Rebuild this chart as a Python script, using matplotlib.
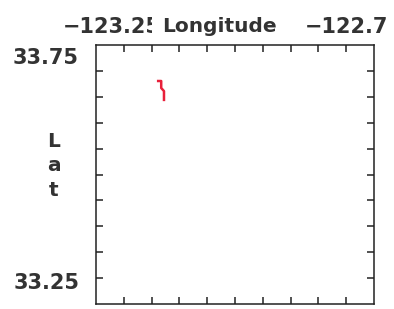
import numpy as np
import matplotlib
matplotlib.use("Agg")
import matplotlib.pyplot as plt
from matplotlib.patches import Rectangle

# track (longitude, latitude)
lon = [-123.127, -123.121, -123.121, -123.1155, -123.1155]
lat = [33.6805, 33.6805, 33.667, 33.661, 33.644]

x_min, x_max = -123.25, -122.7
y_min, y_max = 33.25, 33.75
x_labels = ["\u2212123.25", "\u2212122.7"]
y_labels = ["33.75", "33.25"]

plt.rcParams['font.family'] = ['DejaVu Sans']

fig = plt.figure(figsize=(3.94, 3.09), dpi=100)
ax = fig.add_axes([96 / 394, 5 / 309, 278 / 394, 259 / 309])

ax.plot(lon, lat, color='#e8203a', lw=1.8)

ax.set_xlim(x_min, x_max)
ax.set_ylim(y_min, y_max)
ax.set_xticks(np.linspace(x_min, x_max, 11)[1:-1])
ax.set_yticks(np.linspace(y_min, y_max, 11)[1:-1])
ax.tick_params(direction='in', length=5, width=1.1, color='#222222',
               top=True, right=True, labelbottom=False, labelleft=False)
for s in ax.spines.values():
    s.set_linewidth(1.1)
    s.set_color('#222222')

fs = 15
tc = '#333333'
kw = dict(color=tc, fontweight='bold', va='center')
fig.text(63 / 394, 1 - 27 / 309, x_labels[0], ha='left', zorder=1,
         fontsize=fs, **kw)
# the longitude title covers the end of the left label
fig.add_artist(Rectangle((152 / 394, 1 - 40 / 309), 10 / 394, 25 / 309,
                         transform=fig.transFigure, facecolor='white',
                         edgecolor='none', zorder=2))
fig.text(162 / 394, 1 - 27 / 309, "Longitude", ha='left', zorder=3,
         fontsize=14.5, **kw)
fig.text(388 / 394, 1 - 27 / 309, x_labels[1], ha='right', fontsize=fs, **kw)
fig.text(79 / 394, 1 - 58 / 309, y_labels[0], ha='right', fontsize=fs, **kw)
fig.text(80 / 394, 1 - 283 / 309, y_labels[1], ha='right', fontsize=fs, **kw)
fig.text(54 / 394, 1 - 166 / 309, "L\na\nt", ha='center', linespacing=1.35,
         fontsize=14.5, **kw)

fig.savefig("out.png", dpi=100)
